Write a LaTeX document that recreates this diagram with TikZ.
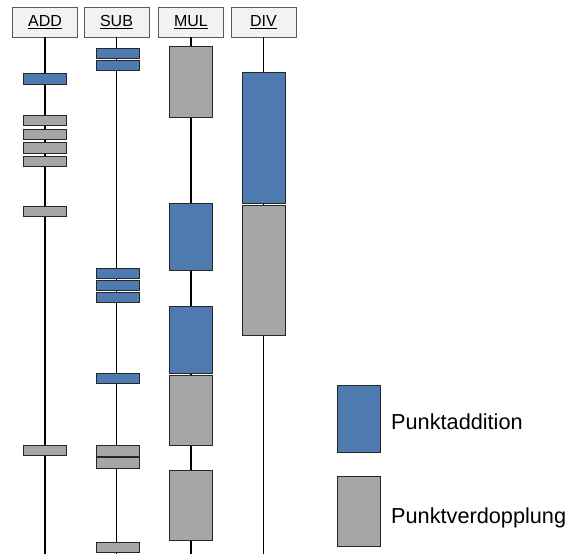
\documentclass[tikz,border=0pt]{standalone}
\usepackage{fontspec}
\setmainfont{Liberation Sans}
\definecolor{addblue}{RGB}{79,122,175}
\definecolor{dblgray}{RGB}{166,166,166}
\definecolor{headfill}{RGB}{242,242,242}
\begin{document}
\begin{tikzpicture}[x=1pt,y=-1pt,
  header/.style={draw=black!65, fill=headfill, line width=0.8pt,
    minimum width=65pt, minimum height=30pt, inner sep=0pt,
    font=\fontsize{16}{18}\selectfont},
  op/.style={draw=black!85, line width=1pt, inner sep=0pt, minimum width=43pt},
  addop/.style={op, fill=addblue},
  dblop/.style={op, fill=dblgray},
  lane/.style={line width=1.3pt, black},
  legendtext/.style={anchor=base west, inner sep=0pt, font=\fontsize{21.7}{24}\selectfont}]
\useasboundingbox (0,0) rectangle (568,554);

% column headers
\node[header] (hadd) at (45,22)    {\underline{ADD}};
\node[header] (hsub) at (116.5,22) {\underline{SUB}};
\node[header] (hmul) at (191,22)   {\underline{MUL}};
\node[header] (hdiv) at (263.5,22) {\underline{DIV}};

% time lines
\coordinate (eadd) at (45,554);
\coordinate (esub) at (116.5,554);
\coordinate (emul) at (191,554);
\coordinate (ediv) at (263.5,554);
\draw[lane] (hadd.south) -- (eadd);
\draw[lane] (hsub.south) -- (esub);
\draw[lane] (hmul.south) -- (emul);
\draw[lane] (hdiv.south) -- (ediv);

% ADD
\node[addop, minimum height=10.4pt] (a1) at (45,79)    {};
\node[dblop, minimum height=10.4pt] (a2) at (45,120.5) {};
\node[dblop, minimum height=10.4pt] (a3) at (45,134.2) {};
\node[dblop, minimum height=10.4pt] (a4) at (45,147.8) {};
\node[dblop, minimum height=10.4pt] (a5) at (45,161.5) {};
\node[dblop, minimum height=10.4pt] (a6) at (44.5,211.5) {};
\node[dblop, minimum height=10.4pt] (a7) at (44.5,450.7) {};

% SUB
\node[addop, minimum height=10pt]   (s1) at (118,53.3)  {};
\node[addop, minimum height=10pt]   (s2) at (118,65.3)  {};
\node[addop, minimum height=10.4pt] (s3) at (117.5,273.5) {};
\node[addop, minimum height=10.4pt] (s4) at (117.5,285.5) {};
\node[addop, minimum height=10.4pt] (s5) at (117.5,297.5) {};
\node[addop, minimum height=10.4pt] (s6) at (117.5,378.5) {};
\node[dblop, minimum height=10.6pt] (s7) at (117.5,450.7) {};
\node[dblop, minimum height=10.6pt] (s8) at (117.5,463)   {};
\node[dblop, minimum height=10.3pt] (s9) at (117.5,547.2) {};

% MUL
\node[dblop, minimum height=71pt]   (m1) at (191,81.5)  {};
\node[addop, minimum height=67pt]   (m2) at (191,236.5) {};
\node[addop, minimum height=67pt]   (m3) at (191,339.8) {};
\node[dblop, minimum height=70.3pt] (m4) at (191,410.2) {};
\node[dblop, minimum height=70pt]   (m5) at (191,505)   {};

% DIV
\node[addop, minimum height=131.3pt] (d1) at (263.7,137.7) {};
\node[dblop, minimum height=130pt]   (d2) at (263.7,270)   {};

% legend
\node[addop, minimum height=67pt] (ladd) at (358.8,418.5) {};
\node[dblop, minimum height=70pt] (ldbl) at (358.8,511)   {};
\node[legendtext] (tadd) at (391,429.5) {Punktaddition};
\node[legendtext] (tdbl) at (391,523)   {Punktverdopplung};
\end{tikzpicture}
\end{document}
